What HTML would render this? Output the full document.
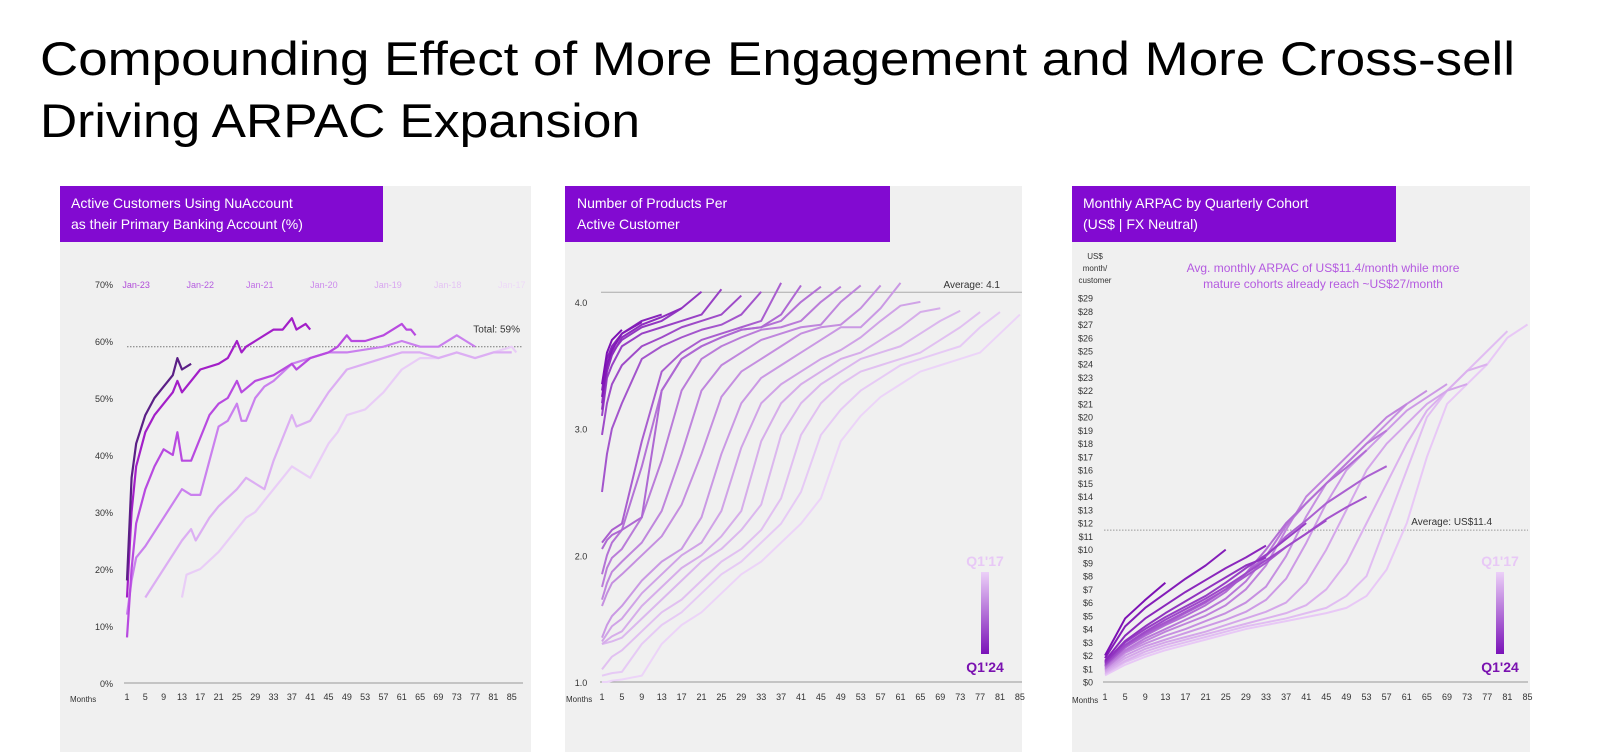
<!DOCTYPE html>
<html><head><meta charset="utf-8"><style>
html,body{margin:0;padding:0;background:#fff;}
svg{display:block;font-family:"Liberation Sans",sans-serif;}
</style></head><body>
<svg id="root" width="1603" height="752" viewBox="0 0 1603 752" xmlns="http://www.w3.org/2000/svg">
<text x="40" y="75" font-size="47" fill="#000" textLength="1475" lengthAdjust="spacingAndGlyphs">Compounding Effect of More Engagement and More Cross-sell</text>
<text x="40" y="137" font-size="47" fill="#000" textLength="600" lengthAdjust="spacingAndGlyphs">Driving ARPAC Expansion</text>

<rect x="60" y="186" width="471" height="566" fill="#f0f0f0"/>
<rect x="60" y="186" width="323" height="56" fill="#820ad1"/>
<text x="71" y="208" font-size="14" fill="#fff">Active Customers Using NuAccount</text>
<text x="71" y="229" font-size="14" fill="#fff">as their Primary Banking Account (%)</text>

<rect x="565" y="186" width="457" height="566" fill="#f0f0f0"/>
<rect x="565" y="186" width="325" height="56" fill="#820ad1"/>
<text x="577" y="208" font-size="14" fill="#fff">Number of Products Per</text>
<text x="577" y="229" font-size="14" fill="#fff">Active Customer</text>

<rect x="1072" y="186" width="458" height="566" fill="#f0f0f0"/>
<rect x="1072" y="186" width="324" height="56" fill="#820ad1"/>
<text x="1083" y="208" font-size="14" fill="#fff">Monthly ARPAC by Quarterly Cohort</text>
<text x="1083" y="229" font-size="14" fill="#fff">(US$ | FX Neutral)</text>
<text x="1095" y="259" font-size="8" fill="#333" text-anchor="middle">US$</text>
<text x="1095" y="271" font-size="8" fill="#333" text-anchor="middle">month/</text>
<text x="1095" y="283" font-size="8" fill="#333" text-anchor="middle">customer</text>
<text x="1323" y="272" font-size="12" fill="#b45ae0" text-anchor="middle">Avg. monthly ARPAC of US$11.4/month while more</text>
<text x="1323" y="288" font-size="12" fill="#b45ae0" text-anchor="middle">mature cohorts already reach ~US$27/month</text>
<defs>
<linearGradient id="lg" x1="0" y1="0" x2="0" y2="1"><stop offset="0" stop-color="#ecd0f8"/><stop offset="1" stop-color="#7a12b8"/></linearGradient>
</defs>
<g id="g1"></g><g id="g2"></g><g id="g3"></g>
</svg>
<script>
// ---------- Panel 1 data ----------
const p1YTicks = [0,10,20,30,40,50,60,70];
const p1XTicks = [1,5,9,13,17,21,25,29,33,37,41,45,49,53,57,61,65,69,73,77,81,85];
const p1CohortLabels = ["Jan-23","Jan-22","Jan-21","Jan-20","Jan-19","Jan-18","Jan-17"];
const p1CohortLabelMonths = [3,17,30,44,58,71,85];
const p1Total = 59;
const p1S0 = [[1,18],[2,36],[3,42],[5,47],[7,50],[9,52],[11,54],[12,57],[13,55],[15,56]];
const p1S1 = [[1,15],[2,30],[3,38],[5,44],[7,47],[9,49],[11,51],[12,53],[13,51],[15,53],[17,55],[21,56],[23,57],[25,60],[26,58],[27,59],[29,60],[33,62],[35,62],[37,64],[38,62],[40,63],[41,62]];
const p1S2 = [[1,8],[2,20],[3,28],[5,34],[7,38],[9,41],[11,40],[12,44],[13,39],[15,39],[17,43],[19,47],[21,49],[23,50],[25,53],[26,51],[29,53],[33,54],[37,56],[38,55],[41,57],[45,58],[47,59],[49,61],[50,60],[53,60],[57,61],[61,63],[62,62],[63,62],[64,61]];
const p1S3 = [[1,12],[2,18],[3,22],[5,24],[9,29],[13,34],[15,33],[17,33],[19,39],[21,45],[23,46],[25,49],[26,46],[27,46],[29,50],[31,52],[33,53],[37,56],[41,57],[45,58],[49,58],[57,59],[61,60],[65,59],[69,59],[73,61],[75,60],[77,59]];
const p1S4 = [[5,15],[9,20],[13,25],[15,27],[16,25],[19,29],[21,31],[25,34],[27,36],[29,35],[31,34],[33,39],[35,43],[37,47],[38,45],[41,46],[45,51],[49,55],[53,56],[57,57],[61,58],[65,58],[69,57],[73,58],[77,57],[81,58],[85,58]];
const p1S5 = [[13,15],[14,19],[17,20],[21,23],[25,27],[27,29],[29,30],[31,32],[33,34],[35,36],[37,38],[41,36],[45,42],[47,44],[49,47],[53,48],[57,51],[61,55],[65,57],[69,57],[73,58],[77,57],[81,58],[85,59],[86,58]];
const p1Series = [p1S5,p1S4,p1S3,p1S2,p1S1,p1S0];
const p1Colors = ["#e9cdf7","#dcaef3","#ca80ee","#b84ae0","#a31fc8","#5b1f86"];
const p1LabelColors = ["#b04ad8","#b55ce0","#c070e6","#cc8aec","#d8a6f0","#e4c4f4","#eedaf8"];

// ---------- Panel 2 data ----------
const p2YTicks = [1,2,3,4];
const p2XTicks = [1,5,9,13,17,21,25,29,33,37,41,45,49,53,57,61,65,69,73,77,81,85];
const p2Average = 4.1;
const p2Months = [1,2,3,5,9,13,17,21,25,29,33,37,41,45,49,53,57,61,65,69,73,77,81,85];
const p2A0 = [1.0,1.0,1.01,1.02,1.05,1.3,1.45,1.55,1.7,1.85,1.95,2.1,2.25,2.45,2.9,3.1,3.25,3.35,3.45,3.5,3.55,3.6,3.75,3.9];
const p2A1 = [1.05,1.06,1.07,1.08,1.3,1.45,1.55,1.7,1.85,1.95,2.1,2.25,2.5,2.95,3.15,3.3,3.4,3.5,3.55,3.6,3.65,3.8,3.92];
const p2A2 = [1.1,1.15,1.2,1.25,1.4,1.55,1.65,1.8,1.95,2.05,2.2,2.45,2.95,3.2,3.35,3.45,3.5,3.55,3.6,3.7,3.8,3.92];
const p2A3 = [1.3,1.31,1.32,1.35,1.5,1.65,1.8,1.95,2.05,2.2,2.4,2.95,3.2,3.35,3.45,3.55,3.6,3.65,3.75,3.85,3.93];
const p2A4 = [1.3,1.33,1.36,1.4,1.6,1.75,1.9,2.0,2.15,2.35,2.9,3.2,3.35,3.45,3.55,3.6,3.7,3.8,3.92,3.95];
const p2A5 = [1.32,1.38,1.44,1.5,1.7,1.85,2.0,2.1,2.35,2.85,3.2,3.35,3.45,3.55,3.62,3.72,3.85,3.97,4.0];
const p2A6 = [1.35,1.45,1.52,1.6,1.8,1.95,2.05,2.3,2.8,3.2,3.4,3.5,3.6,3.7,3.8,3.8,3.95,4.15];
const p2A7 = [1.6,1.7,1.78,1.85,2.0,2.15,2.4,2.8,3.25,3.45,3.55,3.65,3.75,3.8,3.82,3.95,4.13];
const p2A8 = [1.65,1.78,1.87,1.95,2.1,2.35,2.8,3.3,3.5,3.6,3.7,3.75,3.8,3.82,4.0,4.13];
const p2A9 = [1.75,1.9,1.98,2.05,2.3,2.75,3.3,3.55,3.65,3.72,3.78,3.8,3.85,4.0,4.12];
const p2A10 = [1.85,2.0,2.1,2.2,2.7,3.3,3.55,3.65,3.72,3.78,3.8,3.85,4.0,4.12];
const p2A11 = [2.05,2.12,2.16,2.2,2.3,3.3,3.55,3.65,3.72,3.78,3.8,3.9,4.13];
const p2A12 = [2.1,2.15,2.2,2.25,2.9,3.45,3.6,3.7,3.75,3.8,3.85,4.15];
const p2A13 = [2.5,2.8,3.0,3.2,3.55,3.65,3.72,3.78,3.82,3.9,4.08];
const p2A14 = [2.95,3.2,3.35,3.5,3.65,3.72,3.8,3.85,3.9,4.05];
const p2A15 = [3.1,3.4,3.5,3.65,3.75,3.8,3.85,3.9,4.1];
const p2A16 = [3.2,3.5,3.6,3.7,3.8,3.85,3.95,4.08];
const p2A17 = [3.15,3.45,3.58,3.72,3.82,3.88,3.95];
const p2A18 = [3.3,3.55,3.65,3.75,3.85,3.9];
const p2A19 = [3.25,3.5,3.62,3.75,3.84];
const p2A20 = [3.35,3.6,3.7,3.78];
const p2Series = [p2A0,p2A1,p2A2,p2A3,p2A4,p2A5,p2A6,p2A7,p2A8,p2A9,p2A10,p2A11,p2A12,p2A13,p2A14,p2A15,p2A16,p2A17,p2A18,p2A19,p2A20];

// ---------- Panel 3 data ----------
const p3YTicks = [0,1,2,3,4,5,6,7,8,9,10,11,12,13,14,15,16,17,18,19,20,21,22,23,24,25,26,27,28,29];
const p3XTicks = [1,5,9,13,17,21,25,29,33,37,41,45,49,53,57,61,65,69,73,77,81,85];
const p3Average = 11.4;
const p3B0 = [0.5,1.3,1.9,2.4,2.8,3.2,3.6,4.0,4.3,4.6,4.9,5.2,5.6,6.5,8.5,12,17,21,22.5,24,26,27];
const p3B1 = [0.6,1.5,2.1,2.6,3.0,3.4,3.8,4.2,4.5,4.8,5.2,5.6,6.5,8,12,16,20,22,23.5,25,26.5];
const p3B2 = [0.7,1.6,2.3,2.8,3.2,3.6,4.0,4.4,4.8,5.2,5.8,7,9,12,15,18,20.5,22,23.5,24];
const p3B3 = [0.8,1.8,2.5,3.0,3.4,3.8,4.3,4.8,5.3,6,7.5,10,13,16,18,19.5,21,22,22.5];
const p3B4 = [0.9,2.0,2.7,3.2,3.7,4.2,4.7,5.3,6.2,7.8,10.5,13.5,16,17.5,19,20.5,21.5,22.5];
const p3B5 = [1.0,2.2,2.9,3.5,4.0,4.6,5.2,6.0,7.2,9.5,12.5,15,16.5,18,19.5,21,22];
const p3B6 = [1.0,2.3,3.1,3.8,4.4,5.0,5.8,7,8.8,11.5,14,15.5,17,18.5,20,21];
const p3B7 = [1.1,2.4,3.3,4.0,4.7,5.4,6.3,7.6,9.5,11.8,13.5,15,16.5,18,19];
const p3B8 = [1.2,2.6,3.5,4.3,5.0,5.8,6.8,8.2,10,12,13.5,15,16.2,17.5];
const p3B9 = [1.2,2.6,3.6,4.4,5.2,6.0,7.0,8.2,9.5,11,12.2,13.5,14.5,15.5,16.3];
const p3B10 = [1.3,2.7,3.7,4.5,5.3,6.1,7,8,9,10.2,11.2,12.3,13.2,14];
const p3B11 = [1.3,2.8,3.8,4.7,5.5,6.3,7.2,8.2,9.2,10.2,11.2,12.2];
const p3B12 = [1.4,3.0,4.0,4.9,5.7,6.5,7.5,8.6,9.6,10.8,12];
const p3B13 = [1.5,3.1,4.2,5.2,6.1,7.0,7.9,8.8,9.4];
const p3B14 = [1.6,3.5,4.8,5.8,6.8,7.7,8.6,9.4,10.3];
const p3B15 = [1.8,4.2,5.6,6.7,7.8,8.8,10.0];
const p3B16 = [2.0,4.8,6.2,7.5];
const p3Series = [p3B0,p3B1,p3B2,p3B3,p3B4,p3B5,p3B6,p3B7,p3B8,p3B9,p3B10,p3B11,p3B12,p3B13,p3B14,p3B15,p3B16];
const p3SampleStep = 4;

const NS = "http://www.w3.org/2000/svg";
function mk(parent, tag, attrs){ const e=document.createElementNS(NS,tag); for(const k in attrs) e.setAttribute(k,attrs[k]); parent.appendChild(e); return e; }
function mix(a,b,t){ const pa=[1,3,5].map(i=>parseInt(a.substr(i,2),16)), pb=[1,3,5].map(i=>parseInt(b.substr(i,2),16)); return "rgb("+pa.map((v,i)=>Math.round(v+(pb[i]-v)*t)).join(",")+")"; }

// axis functions
const x1 = m => 127 + (m-1)*4.58, y1 = v => 683 - v*5.7;
const x2 = m => 602 + (m-1)*4.975, y2 = v => 682 - (v-1)*126.7;
const x3 = m => 1105 + (m-1)*5.03, y3 = v => 682 - v*13.24;

// ---- Panel 1 ----
const g1 = document.getElementById('g1');
p1YTicks.forEach(v=>{ const t=mk(g1,'text',{x:113,y:y1(v)+4,'font-size':9,fill:'#333','text-anchor':'end'}); t.textContent=v+'%';
   });
p1XTicks.forEach(m=>{ const t=mk(g1,'text',{x:x1(m),y:700,'font-size':9,fill:'#333','text-anchor':'middle'}); t.textContent=m;
   });
let t1=mk(g1,'text',{x:70,y:702,'font-size':8,fill:'#333'}); t1.textContent='Months';
 
let a1=mk(g1,'line',{x1:124,y1:683,x2:523,y2:683,stroke:'#999','stroke-width':1});
 
p1CohortLabels.forEach((s,i)=>{ const t=mk(g1,'text',{x:x1(p1CohortLabelMonths[i]),y:y1(70)+4,'font-size':9,fill:p1LabelColors[i],'text-anchor':'middle'}); t.textContent=s;
   });
let tl=mk(g1,'line',{x1:x1(1),y1:y1(p1Total),x2:522,y2:y1(p1Total),stroke:'#777','stroke-width':1,'stroke-dasharray':'1.5,1.5'});
 
let tt=mk(g1,'text',{x:520,y:y1(p1Total)-14,'font-size':10,fill:'#333','text-anchor':'end'}); tt.textContent='Total: '+p1Total+'%';
 
p1Series.forEach((s,i)=>{ const p=mk(g1,'polyline',{points:s.map(d=>x1(d[0])+','+y1(d[1])).join(' '),fill:'none',stroke:p1Colors[i],'stroke-width':2.2,'stroke-linejoin':'round'});
   });

// ---- Panel 2 ----
const g2 = document.getElementById('g2');
p2YTicks.forEach(v=>{ const t=mk(g2,'text',{x:581,y:y2(v)+4,'font-size':9,fill:'#333','text-anchor':'middle'}); t.textContent=v.toFixed(1);
   });
p2XTicks.forEach(m=>{ const t=mk(g2,'text',{x:x2(m),y:700,'font-size':9,fill:'#333','text-anchor':'middle'}); t.textContent=m;
   });
let t2=mk(g2,'text',{x:566,y:702,'font-size':8,fill:'#333'}); t2.textContent='Months';
 
let a2=mk(g2,'line',{x1:600,y1:682,x2:1022,y2:682,stroke:'#999','stroke-width':1});
 
let al2=mk(g2,'line',{x1:601,y1:y2(p2Average)+3,x2:1022,y2:y2(p2Average)+3,stroke:'#aaa','stroke-width':1});
 
let at2=mk(g2,'text',{x:1000,y:y2(p2Average)-1,'font-size':10,fill:'#333','text-anchor':'end'}); at2.textContent='Average: '+p2Average;
 
p2Series.forEach((s,i)=>{ const c=mix('#ecd4f8','#7c10b4',i/(p2Series.length-1));
 const p=mk(g2,'polyline',{points:s.map((v,j)=>x2(p2Months[j])+','+y2(v)).join(' '),fill:'none',stroke:c,'stroke-width':2,'stroke-linejoin':'round'});
   });
let lb2=mk(g2,'rect',{x:981,y:572,width:8,height:82,fill:'url(#lg)'});
 
let lq1=mk(g2,'text',{x:985,y:566,'font-size':14,'font-weight':'bold',fill:'#e8c8f6','text-anchor':'middle'}); lq1.textContent="Q1'17";
 
let lq2=mk(g2,'text',{x:985,y:672,'font-size':14,'font-weight':'bold',fill:'#7a12b0','text-anchor':'middle'}); lq2.textContent="Q1'24";
 

// ---- Panel 3 ----
const g3 = document.getElementById('g3');
p3YTicks.forEach(v=>{ const t=mk(g3,'text',{x:1093,y:y3(v)+3.5,'font-size':9,fill:'#333','text-anchor':'end'}); t.textContent='$'+v;
   });
p3XTicks.forEach(m=>{ const t=mk(g3,'text',{x:x3(m),y:700,'font-size':9,fill:'#333','text-anchor':'middle'}); t.textContent=m;
   });
let t3=mk(g3,'text',{x:1072,y:703,'font-size':8,fill:'#333'}); t3.textContent='Months';
 
let a3=mk(g3,'line',{x1:1103,y1:682,x2:1528,y2:682,stroke:'#999','stroke-width':1});
 
let al3=mk(g3,'line',{x1:1104,y1:y3(p3Average)-1,x2:1528,y2:y3(p3Average)-1,stroke:'#999','stroke-width':1,'stroke-dasharray':'1.5,1.5'});
 
let at3=mk(g3,'text',{x:1492,y:y3(p3Average)-6,'font-size':10,fill:'#333','text-anchor':'end'}); at3.textContent='Average: US$'+p3Average;
 
p3Series.forEach((s,i)=>{ const c=mix('#e8c8f6','#7c10b4',i/(p3Series.length-1));
 const p=mk(g3,'polyline',{points:s.map((v,j)=>x3(1+j*p3SampleStep)+','+y3(v)).join(' '),fill:'none',stroke:c,'stroke-width':2,'stroke-linejoin':'round'});
   });
let lb3=mk(g3,'rect',{x:1496,y:572,width:8,height:82,fill:'url(#lg)'});
 
let lr1=mk(g3,'text',{x:1500,y:566,'font-size':14,'font-weight':'bold',fill:'#e8c8f6','text-anchor':'middle'}); lr1.textContent="Q1'17";
 
let lr2=mk(g3,'text',{x:1500,y:672,'font-size':14,'font-weight':'bold',fill:'#7a12b0','text-anchor':'middle'}); lr2.textContent="Q1'24";
 
</script>
</body></html>
